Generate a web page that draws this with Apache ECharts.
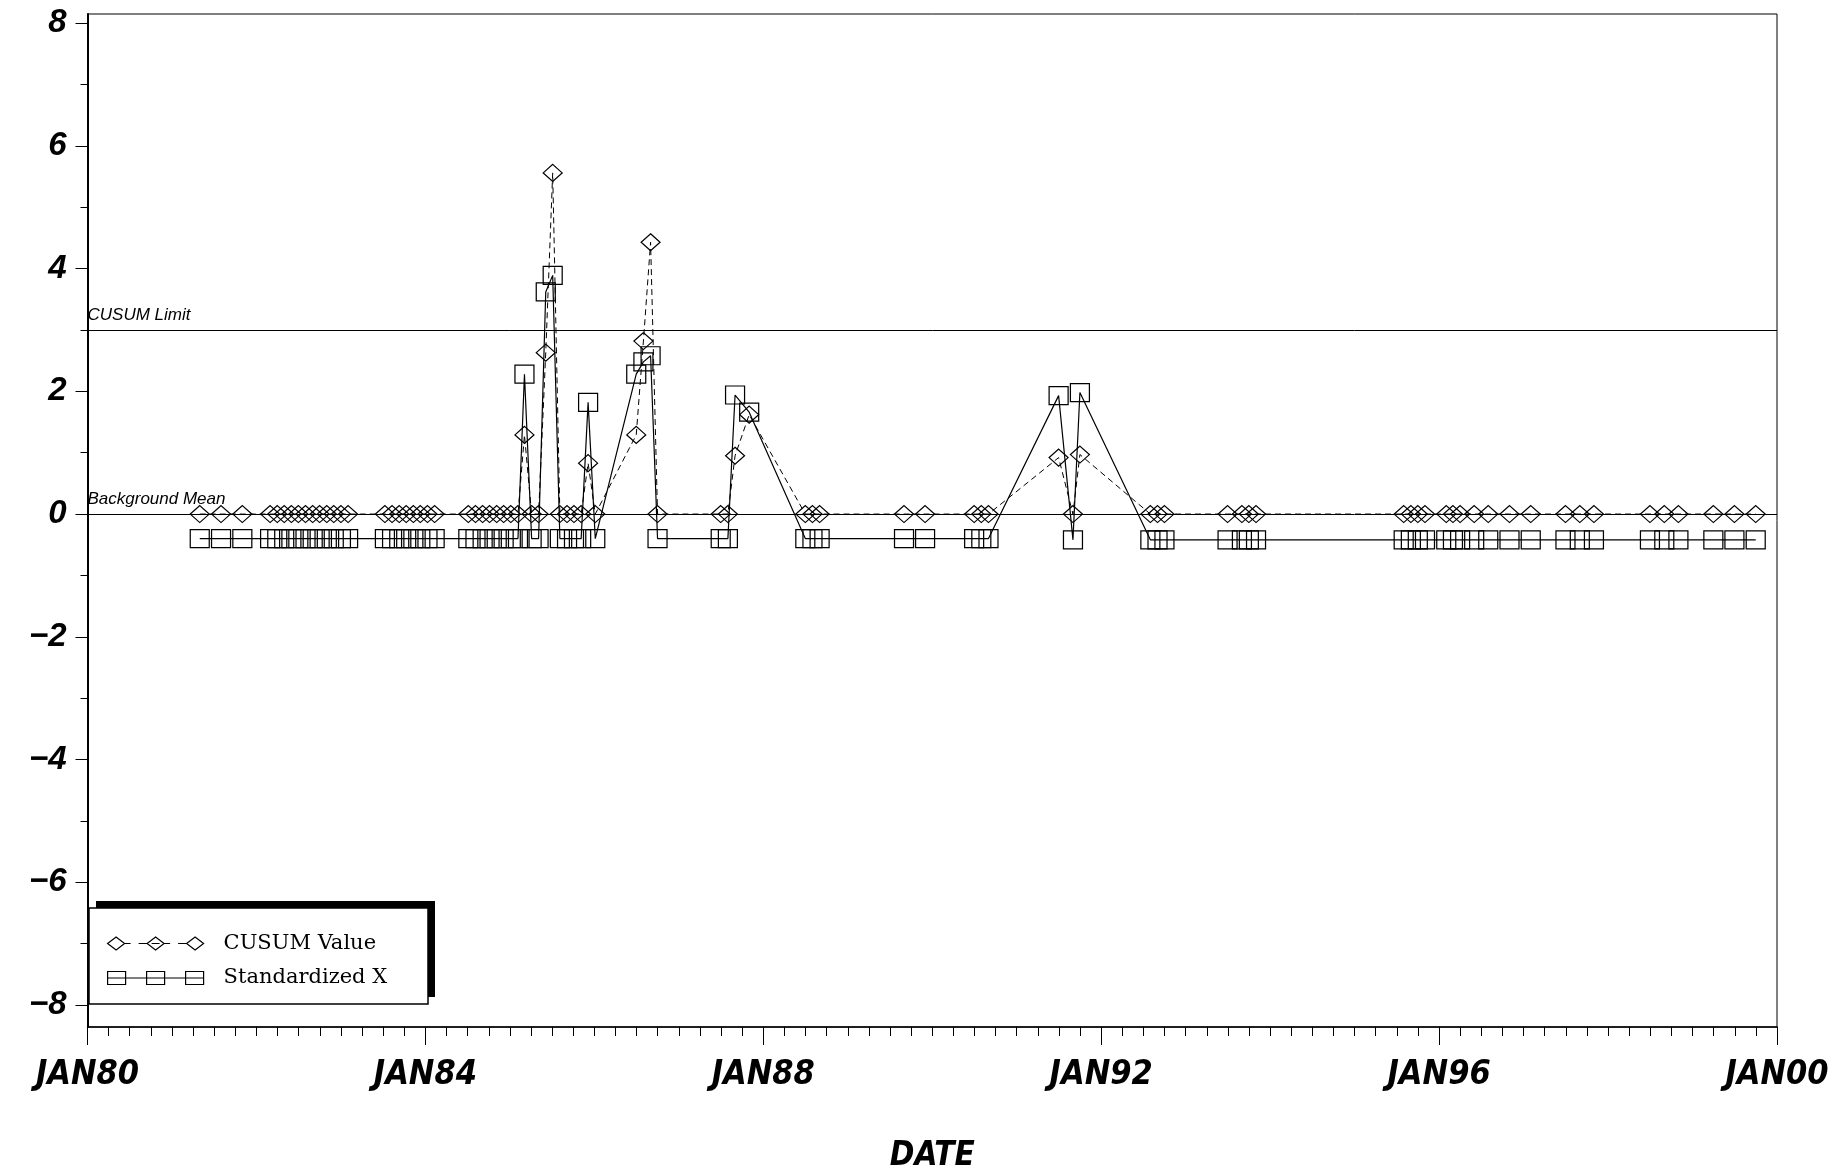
<!DOCTYPE html>
<html>
<head>
<meta charset="utf-8">
<script src="https://cdn.jsdelivr.net/npm/echarts@6/dist/echarts.min.js"></script>
<style>
html,body{margin:0;padding:0;background:#fff;}
#chart{width:1830px;height:1171px;}
</style>
</head>
<body>
<div id="chart"></div>
<script>
// ---------------- DATA ----------------
const seriesNames = ['CUSUM Value', 'Standardized X'];

const sampleDates = [
  '1981-05-01','1981-08-01','1981-11-01',
  '1982-03-01','1982-04-01','1982-05-01','1982-06-01','1982-07-01','1982-08-01',
  '1982-09-01','1982-10-01','1982-11-01','1982-12-01','1983-01-01','1983-02-01',
  '1983-07-10','1983-08-10','1983-09-10','1983-10-10','1983-11-10','1983-12-10','1984-01-10','1984-02-10',
  '1984-07-05','1984-08-05','1984-09-05','1984-10-05','1984-11-05','1984-12-05','1985-01-05','1985-02-05',
  '1985-03-05','1985-04-05','1985-05-05','1985-06-05','1985-07-05','1985-08-05',
  '1985-09-05','1985-10-05','1985-11-05','1985-12-05','1986-01-05',
  '1986-07-01','1986-08-01','1986-09-01','1986-10-01',
  '1987-07-01','1987-08-01','1987-09-01','1987-11-01',
  '1988-07-01','1988-08-01','1988-09-01',
  '1989-09-01','1989-12-01',
  '1990-07-01','1990-08-01','1990-09-01',
  '1991-07-01','1991-09-01','1991-10-01',
  '1992-08-01','1992-09-01','1992-10-01',
  '1993-07-01','1993-09-01','1993-10-01','1993-11-01',
  '1995-08-01','1995-09-01','1995-10-01','1995-11-01',
  '1996-02-01','1996-03-01','1996-04-01','1996-06-01','1996-08-01',
  '1996-11-01','1997-02-01',
  '1997-07-01','1997-09-01','1997-11-01',
  '1998-07-01','1998-09-01','1998-11-01',
  '1999-04-01','1999-07-01','1999-10-01'
];

const cusumValues = [
  0,0,0,
  0,0,0,0,0,0,
  0,0,0,0,0,0,
  0,0,0,0,0,0,0,0,
  0,0,0,0,0,0,0,0,
  1.29,0,0,2.63,5.56,0,
  0,0,0,0.83,0,
  1.29,2.82,4.43,0,
  0,0,0.95,1.62,
  0,0,0,
  0,0,
  0,0,0,
  0.92,0,0.97,
  0,0,0,
  0,0,0,0,
  0,0,0,0,
  0,0,0,0,0,
  0,0,
  0,0,0,
  0,0,0,
  0,0,0
];

const standardizedX = [
  -0.4,-0.4,-0.4,
  -0.4,-0.4,-0.4,-0.4,-0.4,-0.4,
  -0.4,-0.4,-0.4,-0.4,-0.4,-0.4,
  -0.4,-0.4,-0.4,-0.4,-0.4,-0.4,-0.4,-0.4,
  -0.4,-0.4,-0.4,-0.4,-0.4,-0.4,-0.4,-0.4,
  2.28,-0.4,-0.4,3.62,3.89,-0.4,
  -0.4,-0.4,-0.4,1.82,-0.4,
  2.28,2.48,2.58,-0.4,
  -0.4,-0.4,1.94,1.66,
  -0.4,-0.4,-0.4,
  -0.4,-0.4,
  -0.4,-0.4,-0.4,
  1.93,-0.42,1.98,
  -0.42,-0.42,-0.42,
  -0.42,-0.42,-0.42,-0.42,
  -0.42,-0.42,-0.42,-0.42,
  -0.42,-0.42,-0.42,-0.42,-0.42,
  -0.42,-0.42,
  -0.42,-0.42,-0.42,
  -0.42,-0.42,-0.42,
  -0.42,-0.42,-0.42
];

const referenceLines = [
  { name: 'CUSUM Limit', value: 3 },
  { name: 'Background Mean', value: 0 }
];

const yLabelValues = [-8, -6, -4, -2, 0, 2, 4, 6, 8];
const yMinorTickValues = [-7, -5, -3, -1, 1, 3, 5, 7];
const xAxisTitle = 'DATE';

// ---------------- HELPERS ----------------
function toDecimalYear(s) {
  const p = s.split('-').map(Number);
  const start = Date.UTC(p[0], 0, 1);
  const end = Date.UTC(p[0] + 1, 0, 1);
  return p[0] + (Date.UTC(p[0], p[1] - 1, p[2]) - start) / (end - start);
}
const xs = sampleDates.map(toDecimalYear);
const cusumData = xs.map((x, i) => [x, cusumValues[i]]);
const stdData = xs.map((x, i) => [x, standardizedX[i]]);

const narrowFont = "'Liberation Sans Narrow', 'DejaVu Sans Condensed', 'Liberation Sans', Arial, sans-serif";
const sansFont = "'Liberation Sans', Arial, sans-serif";

const Y_MIN = -8.36, Y_MAX = 8.15;

const cusumIcon = 'path://M0 6.5L8.5 0L17 6.5L8.5 13Z M17 6.5L23 6.5 M31 6.5L39.5 6.5 M39.5 6.5L48 0L56.5 6.5L48 13Z M44 6.5L52 6.5 M56.5 6.5L62.5 6.5 M70.5 6.5L79 6.5 M79 6.5L87.5 0L96 6.5L87.5 13Z';
const stdIcon = 'path://M0 0L18 0L18 13L0 13Z M0 6.5L96 6.5 M39 0L57 0L57 13L39 13Z M78 0L96 0L96 13L78 13Z';

const chart = echarts.init(document.getElementById('chart'), null, { renderer: 'canvas' });

const option = {
  animation: false,
  backgroundColor: '#fff',
  grid: {
    left: 87.5, right: 53, top: 14, bottom: 144,
    outerBoundsMode: 'none',
    containLabel: false,
    show: true, borderColor: '#000', borderWidth: 1, backgroundColor: '#fff'
  },
  xAxis: {
    type: 'value',
    min: 1980, max: 2000, interval: 4,
    name: xAxisTitle,
    nameLocation: 'middle',
    nameGap: 113,
    nameTextStyle: { fontFamily: narrowFont, fontSize: 33, fontWeight: 'bold', fontStyle: 'italic', color: '#000' },
    axisLine: { show: true, onZero: false, lineStyle: { color: '#000', width: 1.5 } },
    axisTick: { show: true, inside: false, length: 18, lineStyle: { color: '#000', width: 1 } },
    minorTick: { show: true, splitNumber: 16, length: 9, lineStyle: { color: '#000', width: 1 } },
    splitLine: { show: false },
    minorSplitLine: { show: false },
    axisLabel: {
      margin: 31,
      formatter: v => 'JAN' + String(v).slice(2),
      fontFamily: narrowFont, fontSize: 34, fontWeight: 'bold', fontStyle: 'italic', color: '#000'
    }
  },
  yAxis: [
    {
      type: 'value',
      min: Y_MIN, max: Y_MAX,
      position: 'left',
      axisLine: { show: true, onZero: false, lineStyle: { color: '#000', width: 2 } },
      axisTick: { show: true, inside: false, length: 12, customValues: yLabelValues, lineStyle: { color: '#000', width: 1 } },
      splitLine: { show: false },
      axisLabel: {
        customValues: yLabelValues,
        margin: 21,
        formatter: v => (v < 0 ? '\u2212' + Math.abs(v) : String(v)),
        fontFamily: sansFont, fontSize: 33, fontWeight: 'bold', fontStyle: 'italic', color: '#000'
      }
    },
    {
      type: 'value',
      min: Y_MIN, max: Y_MAX,
      position: 'left',
      axisLine: { show: false },
      axisTick: { show: true, inside: false, length: 7, customValues: yMinorTickValues, lineStyle: { color: '#000', width: 1 } },
      splitLine: { show: false },
      axisLabel: { show: false }
    }
  ],
  legend: {
    orient: 'vertical',
    left: 107, top: 933,
    padding: 0,
    itemWidth: 96, itemHeight: 13, itemGap: 13.5,
    z: 20,
    selectedMode: false,
    textStyle: { fontFamily: "'DejaVu Serif', 'Liberation Serif', serif", fontSize: 21, color: '#000', padding: [0, 0, 0, 15] },
    data: [
      { name: seriesNames[0], icon: cusumIcon, itemStyle: { color: 'rgba(0,0,0,0)', borderColor: '#000', borderWidth: 1.2 } },
      { name: seriesNames[1], icon: stdIcon, itemStyle: { color: 'rgba(0,0,0,0)', borderColor: '#000', borderWidth: 1.2 } }
    ]
  },
  graphic: [
    { type: 'rect', z: 10, shape: { x: 96, y: 901, width: 339, height: 96 }, style: { fill: '#000' } },
    { type: 'rect', z: 11, shape: { x: 89, y: 908, width: 339, height: 96 }, style: { fill: '#fff', stroke: '#000', lineWidth: 1.5 } }
  ],
  series: [
    {
      name: seriesNames[1],
      type: 'line',
      data: stdData,
      symbol: 'rect',
      symbolSize: [19, 18],
      lineStyle: { color: '#000', width: 1.2, type: 'solid' },
      itemStyle: { color: 'rgba(0,0,0,0)', borderColor: '#000', borderWidth: 1.2 },
      z: 3
    },
    {
      name: seriesNames[0],
      type: 'line',
      data: cusumData,
      symbol: 'diamond',
      symbolSize: [19, 17],
      lineStyle: { color: '#000', width: 1, type: [6, 4] },
      itemStyle: { color: 'rgba(0,0,0,0)', borderColor: '#000', borderWidth: 1.2 },
      z: 4,
      markLine: {
        silent: true,
        symbol: 'none',
        lineStyle: { color: '#000', width: 1, type: 'solid' },
        label: {
          show: true,
          position: 'insideStartTop',
          formatter: '{b}',
          distance: [0, 6],
          fontFamily: sansFont, fontSize: 17, fontStyle: 'italic', color: '#000'
        },
        data: referenceLines.map(r => ({ name: r.name, yAxis: r.value }))
      }
    }
  ]
};

chart.setOption(option);
</script>
</body>
</html>
